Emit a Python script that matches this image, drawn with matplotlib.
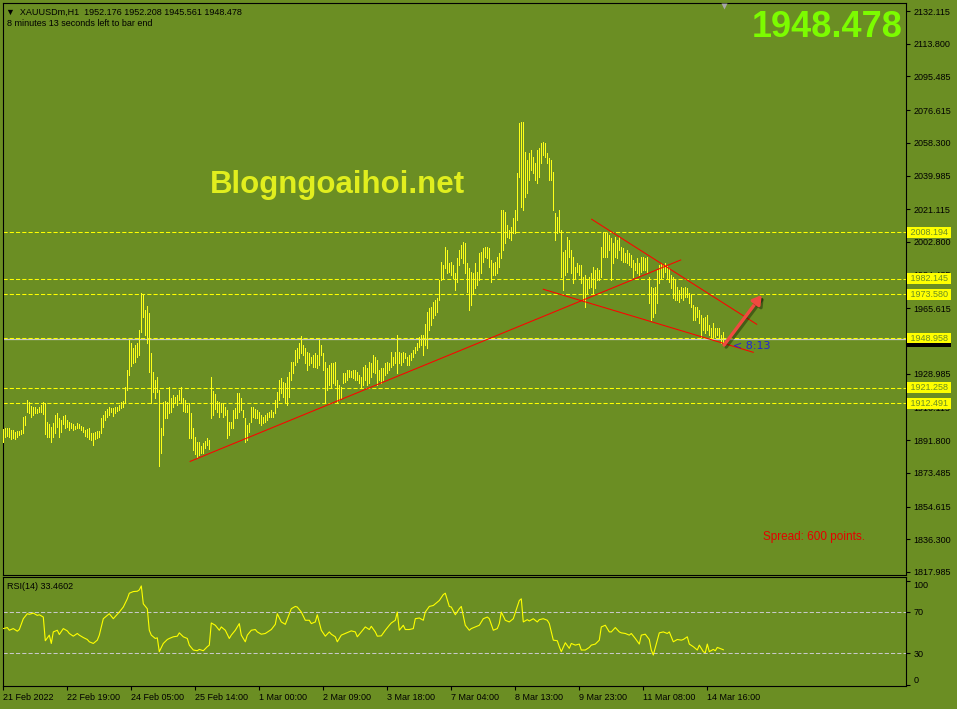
import numpy as np
import matplotlib.pyplot as plt
import matplotlib.transforms as mtransforms
import matplotlib.patheffects as pe

plt.rcParams['font.family'] = ['Liberation Sans', 'DejaVu Sans']

# ----------------- DATA -----------------

symbol = "XAUUSDm,H1"
bar_open, bar_high, bar_low, bar_close = 1952.176, 1952.208, 1945.561, 1948.478
spread = 600
time_left = (8, 13)

# H1 bar highs / lows, 21 Feb 2022 -> 14 Mar 2022 16:00
highs = [
    1898.1, 1898.6, 1898.6, 1898.6, 1897.5, 1897.5, 1896.4, 1896.9, 1896.9, 1897.5,
    1904.8, 1905.3, 1914.3, 1913.2, 1911.0, 1910.4, 1910.4, 1909.3, 1910.4, 1911.5,
    1913.2, 1912.6, 1902.0, 1900.9, 1899.2, 1901.4, 1905.9, 1907.0, 1904.2, 1903.1,
    1905.3, 1905.9, 1903.1, 1902.0, 1901.4, 1900.9, 1899.8, 1901.4, 1900.9, 1899.8,
    1899.2, 1897.5, 1898.1, 1898.6, 1895.8, 1895.8, 1896.4, 1896.9, 1896.9, 1904.2,
    1905.9, 1908.2, 1909.3, 1910.4, 1909.8, 1909.8, 1910.4, 1910.4, 1911.5, 1913.2,
    1913.7, 1921.6, 1931.1, 1947.9, 1946.2, 1943.4, 1945.1, 1946.2, 1953.5, 1974.2,
    1973.1, 1964.7, 1966.9, 1963.0, 1940.6, 1930.0, 1925.5, 1927.2, 1919.9, 1898.6,
    1913.2, 1913.7, 1913.2, 1921.6, 1915.4, 1917.1, 1916.0, 1917.1, 1919.9, 1921.6,
    1915.4, 1914.3, 1911.5, 1912.6, 1907.0, 1898.6, 1893.6, 1890.8, 1890.8, 1888.5,
    1890.2, 1891.3, 1893.0, 1891.9, 1927.2, 1919.3, 1917.7, 1913.7, 1913.2, 1912.6,
    1912.6, 1910.4, 1908.7, 1902.0, 1902.0, 1908.7, 1909.8, 1918.2, 1918.2, 1915.4,
    1908.7, 1904.2, 1900.3, 1901.4,
    1910.5, 1910.5, 1909.1, 1908.7, 1907.7, 1905.9, 1905.0, 1905.9, 1906.9, 1907.7,
    1908.7, 1907.7, 1914.3, 1919.0, 1925.5, 1926.5, 1924.6, 1923.7, 1927.4, 1930.2,
    1935.7, 1935.7, 1942.3, 1943.3, 1946.1, 1950.1, 1945.1, 1943.3, 1941.4, 1940.5,
    1938.6, 1939.5, 1940.5, 1939.5, 1947.9, 1945.1, 1940.5, 1935.7, 1932.1, 1933.9,
    1934.9, 1934.9, 1935.7, 1925.5, 1922.7, 1921.7, 1929.3, 1929.3, 1931.1, 1931.1,
    1930.7, 1931.1, 1931.1, 1930.2, 1928.3, 1927.4, 1933.0, 1933.9, 1932.1, 1935.7,
    1934.9, 1939.5, 1938.6, 1936.7, 1931.1, 1932.1, 1932.1, 1934.9, 1935.7, 1934.9,
    1941.4, 1938.6, 1941.4, 1950.7, 1941.4, 1940.5, 1941.4, 1940.5, 1938.6, 1939.5,
    1940.5, 1942.3, 1944.2, 1946.1, 1949.8, 1950.7, 1950.7, 1957.1, 1963.8,
    1965.8, 1966.5, 1969.4, 1970.3, 1971.2, 1981.5,
    1991.8, 1989.9, 2000.2, 1998.3, 1990.9, 1991.8, 1989.9, 1985.2, 1993.6, 1998.3,
    2001.1, 2003.0, 2002.1, 1990.9, 1988.1, 1986.2, 1985.2, 1990.9, 1986.2, 1996.4,
    1997.3, 1999.2, 2000.2, 2000.2, 1999.2, 1992.7, 1990.9, 1991.8, 1994.6, 1996.4,
    2020.7, 2020.7, 2019.8, 2012.3, 2009.5, 2011.3, 2016.1, 2020.7, 2041.2, 2069.6,
    2070.2, 2070.2, 2053.4, 2048.7, 2052.5, 2054.3, 2050.6, 2046.8, 2054.3, 2055.3,
    2058.1, 2059.0, 2058.1, 2052.5, 2049.7, 2048.7, 2042.2, 2018.8, 2016.9, 2020.7,
    2009.5, 1997.3, 1998.3, 2005.8, 2003.9, 1998.3, 1994.6, 1988.9, 1990.9, 1989.9,
    1989.9, 1983.4, 1984.3, 1981.5, 1983.4, 1985.2, 1988.9, 1987.1, 1988.1, 1987.1,
    2000.2, 2008.6, 2008.6, 2007.6, 2006.7, 2004.9, 2002.1, 2005.8, 2003.9, 2005.8,
    2000.2, 1999.2, 1996.4, 1998.3, 1996.4, 1995.5, 1992.7, 1990.9, 1993.6, 1990.9,
    1994.6, 1994.6, 1993.6, 1994.6, 1983.4, 1977.8, 1976.9, 1977.8, 1987.1, 1989.9,
    1990.9, 1989.9, 1990.9, 1989.9, 1988.1, 1984.3, 1983.4, 1981.5, 1977.8, 1975.9,
    1977.8, 1976.9, 1977.8, 1976.9, 1974.0, 1973.1, 1967.5, 1966.5, 1966.5, 1964.7,
    1961.9, 1960.0, 1960.9, 1961.9, 1956.3, 1954.4, 1957.2, 1954.4, 1954.4, 1954.4,
    1950.7, bar_high,
]
lows = [
    1890.8, 1893.6, 1894.1, 1893.6, 1892.5, 1893.0, 1892.5, 1893.6, 1894.7, 1895.3,
    1895.8, 1900.3, 1907.6, 1907.0, 1904.8, 1905.9, 1907.0, 1907.0, 1907.6, 1907.6,
    1906.5, 1895.3, 1893.6, 1893.6, 1890.8, 1893.6, 1895.8, 1899.2, 1893.6, 1896.4,
    1900.9, 1898.6, 1899.2, 1897.5, 1898.6, 1897.5, 1898.1, 1898.6, 1898.6, 1897.5,
    1896.4, 1894.1, 1893.6, 1892.5, 1892.0, 1889.1, 1892.5, 1893.0, 1893.6, 1895.8,
    1899.2, 1903.1, 1904.8, 1905.9, 1907.6, 1905.3, 1907.0, 1908.2, 1908.7, 1909.8,
    1910.4, 1912.6, 1919.9, 1928.3, 1933.3, 1935.0, 1935.6, 1938.4, 1939.5, 1952.4,
    1960.8, 1950.7, 1946.2, 1930.0, 1912.6, 1918.8, 1915.4, 1918.8, 1877.3, 1884.6,
    1894.7, 1904.2, 1904.2, 1907.0, 1907.6, 1910.4, 1912.6, 1911.5, 1914.3, 1913.2,
    1908.2, 1907.6, 1907.6, 1893.0, 1893.0, 1886.3, 1884.1, 1882.4, 1883.5, 1884.6,
    1884.6, 1887.4, 1889.1, 1886.9, 1904.2, 1905.9, 1909.3, 1907.6, 1904.8, 1907.6,
    1904.8, 1905.9, 1893.0, 1894.7, 1898.6, 1898.6, 1904.2, 1904.2, 1907.6, 1908.7,
    1904.8, 1890.8, 1891.9, 1896.4,
    1902.2, 1904.9, 1904.1, 1904.1, 1901.3, 1900.3, 1901.3, 1902.2, 1903.1, 1904.6,
    1905.0, 1904.6, 1906.9, 1910.5, 1914.3, 1918.1, 1916.2, 1913.3, 1911.5, 1916.2,
    1925.5, 1929.3, 1933.9, 1935.7, 1937.7, 1940.5, 1939.5, 1934.9, 1931.1, 1933.9,
    1934.9, 1933.0, 1933.0, 1932.1, 1933.9, 1939.5, 1931.1, 1913.3, 1919.9, 1922.7,
    1921.7, 1923.7, 1922.7, 1913.3, 1914.3, 1915.3, 1923.7, 1924.6, 1925.5, 1927.4,
    1927.4, 1926.5, 1925.5, 1925.5, 1923.7, 1921.7, 1922.7, 1925.5, 1922.7, 1923.7,
    1927.4, 1930.2, 1929.3, 1922.7, 1925.5, 1923.7, 1925.5, 1928.3, 1929.3, 1931.1,
    1933.0, 1933.9, 1934.9, 1929.3, 1934.9, 1933.9, 1935.7, 1937.7, 1933.9, 1933.9,
    1936.7, 1938.6, 1940.5, 1942.3, 1944.2, 1945.1, 1939.5, 1945.1, 1943.3,
    1953.5, 1956.3, 1960.2, 1961.9, 1963.6, 1970.3,
    1981.5, 1982.4, 1988.1, 1985.2, 1986.2, 1984.3, 1982.4, 1975.9, 1980.5, 1989.9,
    1993.6, 1990.9, 1985.2, 1974.9, 1964.7, 1967.5, 1974.0, 1976.9, 1978.7, 1981.5,
    1985.2, 1991.8, 1994.6, 1993.6, 1988.9, 1980.5, 1984.3, 1984.3, 1985.2, 1988.9,
    1993.6, 1998.3, 2002.1, 2005.8, 2004.9, 2003.9, 2007.6, 2007.6, 2015.1, 2039.4,
    2022.6, 2020.7, 2028.2, 2030.1, 2037.5, 2043.1, 2041.2, 2037.5, 2035.6, 2039.4,
    2046.8, 2051.5, 2050.6, 2046.8, 2037.5, 2037.5, 2020.7, 2003.9, 2007.6, 2008.6,
    1983.4, 1975.9, 1984.3, 1986.2, 1994.6, 1985.2, 1979.6, 1982.4, 1986.2, 1984.3,
    1979.6, 1970.3, 1966.5, 1974.0, 1976.9, 1977.8, 1974.0, 1976.9, 1981.5, 1981.5,
    1983.4, 1994.6, 1994.6, 1994.6, 1998.3, 1981.5, 1990.9, 1994.6, 1993.6, 1998.3,
    1992.7, 1991.8, 1991.8, 1990.9, 1989.9, 1988.9, 1983.4, 1987.1, 1985.2, 1984.3,
    1986.2, 1987.1, 1987.1, 1986.2, 1968.5, 1959.1, 1960.9, 1962.8, 1968.5, 1979.6,
    1982.4, 1983.4, 1986.2, 1982.4, 1980.5, 1976.9, 1971.2, 1970.3, 1970.3, 1969.4,
    1971.2, 1970.3, 1972.1, 1972.1, 1968.5, 1966.5, 1959.1, 1959.1, 1960.9, 1957.2,
    1949.8, 1953.5, 1951.6, 1953.5, 1950.7, 1949.8, 1949.8, 1949.8, 1950.7, 1948.8,
    1946.1, bar_low,
]

# RSI(14): bar index -> value
rsi_bar = [
    0, 2, 3, 5, 7, 8, 10, 12, 13, 15, 17, 18, 20, 21, 23, 24, 25, 27, 28, 30,
    32, 33, 35, 37, 38, 40, 42, 43, 45, 47, 48, 50, 52, 53, 55, 57, 58, 60, 62, 63,
    65, 67, 68, 69, 70, 72, 73, 74, 76, 77, 78, 80, 82, 83, 85, 87, 88, 90, 92, 93,
    95, 97, 98, 100, 102, 103, 104, 106, 108, 109, 111, 113, 114, 116, 118, 119, 121, 122, 124, 126,
    127, 129, 131, 133, 134, 136, 137, 139, 141, 143, 144, 146, 147, 149, 151, 153, 154, 156, 157, 159,
    161, 163, 164, 166, 167, 169, 171, 173, 174, 176, 177, 179, 181, 183, 184, 186, 187, 189, 191, 193,
    194, 196, 197, 198, 200, 201, 203, 205, 206, 208, 210, 211, 213, 215, 216, 218, 220, 221, 223, 224,
    226, 228, 229, 231, 233, 234, 236, 238, 240, 242, 243, 245, 247, 248, 249, 251, 253, 254, 255, 257,
    258, 259, 260, 262, 263, 265, 267, 268, 270, 272, 273, 274, 275, 277, 278, 279, 281, 283, 284, 286,
    288, 289, 291, 293, 294, 296, 298, 299, 301, 303, 304, 306, 308, 309, 311, 313, 314, 316, 318, 319,
    321, 323, 324, 325, 327, 328, 330, 332, 333, 334, 335, 337, 339, 340, 342, 343, 345, 347, 348, 350,
    351, 352, 353, 355, 356, 357, 360,
]
rsi_val = [
    53.8, 54.8, 52.2, 53.8, 51.3, 52.9, 63.3, 68.1, 67.5, 68.7, 66.5, 67.1, 64.9, 42.1, 47.5, 39.5, 50.6, 52.2, 48.1, 53.8,
    51.6, 49.1, 46.5, 49.1, 47.5, 45.2, 43.3, 41.1, 39.5, 42.7, 47.5, 63.3, 66.5, 68.1, 63.3, 67.5, 69.7, 74.5, 82.4, 87.8,
    89.4, 89.7, 91.0, 94.8, 77.6, 72.9, 52.2, 47.5, 44.3, 44.9, 31.6, 39.5, 43.3, 44.3, 45.9, 46.5, 49.7, 45.9, 44.3, 37.9,
    33.2, 32.5, 33.8, 32.5, 36.4, 37.9, 59.2, 57.0, 52.2, 55.4, 52.2, 44.3, 47.5, 52.2, 58.6, 47.5, 41.1, 47.5, 52.2, 52.9,
    50.6, 48.4, 49.1, 51.6, 52.9, 57.9, 68.1, 60.2, 57.9, 68.1, 72.9, 75.1, 74.5, 69.7, 61.8, 61.8, 58.6, 60.2, 67.1, 52.2,
    46.5, 50.6, 48.4, 45.9, 41.1, 47.5, 49.1, 50.6, 51.6, 50.6, 45.9, 50.6, 55.4, 52.9, 56.0, 50.6, 46.5, 46.8, 52.2, 57.0,
    59.2, 61.8, 69.7, 52.2, 57.0, 52.9, 52.9, 53.8, 63.3, 64.0, 61.8, 69.7, 75.1, 76.0, 77.6, 80.8, 86.5, 87.8, 75.1, 74.5,
    67.1, 72.9, 75.1, 57.0, 52.2, 53.8, 55.4, 57.0, 63.3, 64.9, 63.3, 52.2, 53.8, 58.6, 69.7, 61.8, 60.2, 61.8, 63.3, 75.1,
    80.8, 82.4, 60.2, 62.4, 61.1, 63.3, 60.2, 62.4, 63.3, 61.8, 58.6, 50.6, 42.7, 42.1, 36.4, 31.6, 40.2, 34.8, 39.5, 37.9,
    38.9, 33.2, 33.2, 35.7, 37.9, 38.9, 42.7, 55.4, 57.0, 50.6, 50.6, 54.8, 50.6, 49.7, 49.1, 47.5, 49.1, 44.3, 38.9, 47.5,
    48.4, 43.3, 33.2, 28.4, 42.7, 49.7, 50.6, 49.1, 50.6, 45.9, 41.1, 43.3, 42.7, 43.3, 45.9, 38.9, 36.4, 33.2, 37.9, 31.6,
    30.6, 38.9, 31.6, 33.8, 32.5, 35.7, 33.4602,
]
rsi_levels = [30, 70]
rsi_ticks = [0, 30, 70, 100]

# horizontal levels drawn by hand
levels = [2008.194, 1982.145, 1973.580, 1948.958, 1921.258, 1912.491]

# trendlines: (bar, price) anchors
trendlines = [
    ((93.4, 1879.9), (338.7, 1992.7)),
    ((270.0, 1976.3), (375.0, 1941.0)),
    ((294.2, 2015.5), (376.7, 1956.7)),
]
arrow_from = (360.4, 1945.1)
arrow_to = (379.2, 1973.1)

price_ticks = [2132.115, 2113.800, 2095.485, 2076.615, 2058.300, 2039.985, 2021.115,
               2002.800, 1984.485, 1965.615, 1947.300, 1928.985, 1910.115, 1891.800,
               1873.485, 1854.615, 1836.300, 1817.985]
time_ticks = [0, 32, 64, 96, 128, 160, 192, 224, 256, 288, 320, 352]
time_labels = ["21 Feb 2022", "22 Feb 19:00", "24 Feb 05:00", "25 Feb 14:00",
               "1 Mar 00:00", "2 Mar 09:00", "3 Mar 18:00", "7 Mar 04:00",
               "8 Mar 13:00", "9 Mar 23:00", "11 Mar 08:00", "14 Mar 16:00"]

# ----------------- PLOT -----------------

BG = "#6B8E23"
W, H = 957, 709

def rect(x0, y0, x1, y1):
    return [x0 / W, 1 - y1 / H, (x1 - x0) / W, (y1 - y0) / H]

fig = plt.figure(figsize=(W / 100, H / 100), dpi=100, facecolor=BG)
ax = fig.add_axes(rect(3, 3, 906, 575), facecolor=BG)
ax_rsi = fig.add_axes(rect(3, 577, 906, 686), facecolor=BG, sharex=ax)

idx = np.arange(len(highs))
ax.vlines(idx, lows, highs, color="#FFFF1A", lw=0.5, antialiased=False, zorder=3)

ax.axhline(bar_close, color="#C8C8C8", lw=0.9, zorder=1)
for lv in levels:
    ax.axhline(lv, color="#FFFF00", lw=0.75, ls=(0, (4, 2)), zorder=2)

for (x0, y0), (x1, y1) in trendlines:
    ax.plot([x0, x1], [y0, y1], color="#FF0000", lw=0.75, zorder=4)

ax.annotate("", xy=arrow_to, xytext=arrow_from,
            arrowprops=dict(arrowstyle="-|>,head_length=0.5,head_width=0.3",
                            color="#F04A40", lw=2.4, shrinkA=0, shrinkB=0,
                            path_effects=[pe.SimpleLineShadow(offset=(1.5, -1.5), alpha=0.35), pe.Normal()]),
            zorder=5)

ax.text(364.9, 1944.5, f"< {time_left[0]}:{time_left[1]:02d}", color="#2424D8",
        fontsize=8, family="DejaVu Sans", va="center", zorder=6)

ax.set_xlim(-0.15, 451.35)
ax.set_ylim(1816.3, 2136.6)
ax.yaxis.tick_right()
ax.set_yticks(price_ticks, [f"{v:.3f}" for v in price_ticks])
ax.tick_params(axis="y", length=3, width=0.8, pad=2.5, labelsize=6.5, colors="black")
ax.tick_params(axis="x", bottom=False, labelbottom=False)
for s in ax.spines.values():
    s.set_color("black")
    s.set_linewidth(0.8)

# price labels on the right scale
trans = mtransforms.blended_transform_factory(ax.transAxes, ax.transData)
bid_trans = mtransforms.offset_copy(trans, fig=fig, y=-3, units="dots")
ax.text(1.002, bar_close, f" {bar_close:.3f} ", transform=bid_trans, fontsize=6.5,
        color="black", va="center", ha="left", clip_on=False, zorder=6,
        bbox=dict(boxstyle="square,pad=0.1", fc="black", ec="none"))
for lv in levels:
    ax.text(1.002, lv, f" {lv:.3f} ", transform=trans, fontsize=6.5, color=BG,
            va="center", ha="left", clip_on=False, zorder=7,
            bbox=dict(boxstyle="square,pad=0.1", fc="#FFFF00", ec="none"))

ax.plot([360.1], [0.994], marker="v", ms=5, color="#A8A8A8", mec="none",
        transform=mtransforms.blended_transform_factory(ax.transData, ax.transAxes),
        clip_on=False, zorder=8)

# RSI window
ax_rsi.plot(rsi_bar, rsi_val, color="#FFFF00", lw=0.8, zorder=3)
for lv in rsi_levels:
    ax_rsi.axhline(lv, color="#C8C8C8", lw=0.75, ls=(0, (4, 2)), zorder=2)
ax_rsi.set_ylim(-1.4, 103.4)
ax_rsi.yaxis.tick_right()
ax_rsi.set_yticks(rsi_ticks, [str(v) for v in rsi_ticks])
ax_rsi.tick_params(axis="y", length=3, width=0.8, pad=2.5, labelsize=6.5, colors="black")
for lbl, v in zip(ax_rsi.get_yticklabels(), rsi_ticks):
    if v == 100:
        lbl.set_va("top")
    elif v == 0:
        lbl.set_va("bottom")
ax_rsi.set_xticks(time_ticks, time_labels)
ax_rsi.tick_params(axis="x", length=3, width=0.8, pad=2, labelsize=6.5, colors="black")
for lbl in ax_rsi.get_xticklabels():
    lbl.set_ha("left")
for s in ax_rsi.spines.values():
    s.set_color("black")
    s.set_linewidth(0.8)
ax_rsi.text(7 / W, 1 - 586.5 / H, f"RSI(14) {rsi_val[-1]:.4f}", transform=fig.transFigure,
            fontsize=6.5, color="black", va="center")

# chart texts
fig.text(6 / W, 1 - 14.5 / H,
         f"▼  {symbol}  {bar_open:.3f} {bar_high:.3f} {bar_low:.3f} {bar_close:.3f}",
         fontsize=6.5, color="black", va="baseline")
fig.text(7 / W, 1 - 26.5 / H, f"{time_left[0]} minutes {time_left[1]} seconds left to bar end",
         fontsize=6.5, color="black", va="baseline")
fig.text(902.7 / W, 1 - 37.3 / H, f"{bar_close:.3f}", fontsize=26, weight="bold",
         color="#7CFC00", ha="right", va="baseline")
fig.text(210 / W, 1 - 192.7 / H, "Blogngoaihoi.net", fontsize=22.5, weight="bold",
         color="#E1EE1E", va="baseline")
fig.text(763 / W, 1 - 537 / H, f"Spread: {spread} points.", fontsize=8.5,
         color="#E60000", va="center")

fig.savefig("out.png", dpi=100, facecolor=BG)
